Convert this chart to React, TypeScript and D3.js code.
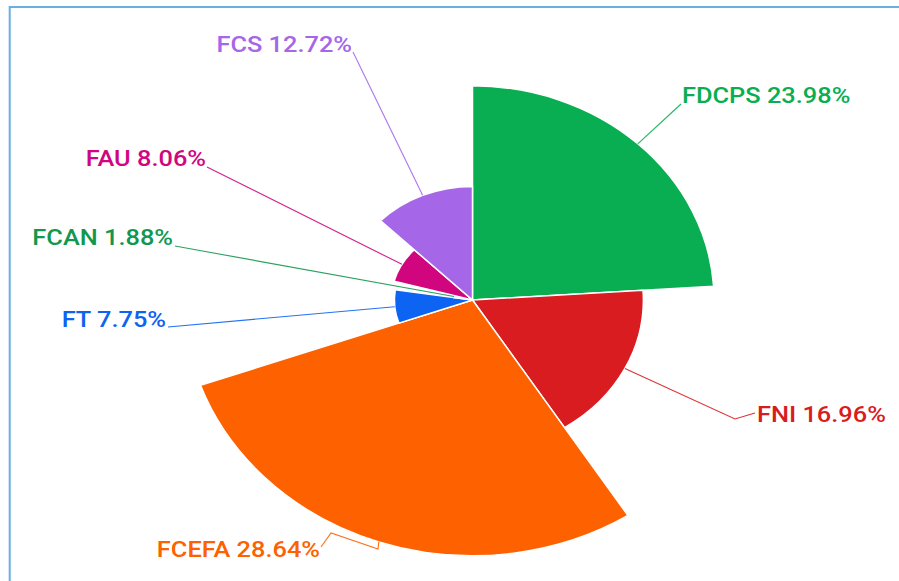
import React from 'react';
import * as d3 from 'd3';

const categories = ['FDCPS', 'FNI', 'FCEFA', 'FT', 'FCAN', 'FAU', 'FCS'];
const shares = [23.98, 16.96, 28.64, 7.75, 1.88, 8.06, 12.72];
const colors = ['#08ae51', '#d91c20', '#fe6100', '#0d63f2', '#12984e', '#d1067f', '#a566e8'];

// leader line bend/end points (screen px) after the arc start point
const labelBends: [number, number][][] = [
  [[681, 104]],
  [[735, 419], [755, 413]],
  [[378, 549], [331, 533], [321, 547]],
  [[168, 327]],
  [[175, 246]],
  [[207, 167]],
  [[353, 52]],
];
const labelX = [682, 757, 320, 166, 173, 206, 352];
const labelY = [103, 422, 557, 327, 245, 166, 52];
const labelAnchor = ['start', 'start', 'end', 'end', 'end', 'end', 'end'];

const W = 899;
const H = 581;
const cx = 472.5;
const cy = 300;
const sx = 1.128;
const maxR = 255.8;

export default function App() {
  const pie = d3.pie<number>().sort(null).value((d) => d).startAngle(0).endAngle(2 * Math.PI);
  const arcsData = pie(shares);
  const r = d3.scaleLinear().domain([0, d3.max(shares) as number]).range([0, maxR]);
  const arcGen = d3.arc<d3.PieArcDatum<number>>().innerRadius(0).outerRadius((d) => r(d.data));
  const line = d3.line();

  return (
    <svg width={W} height={H} style={{ position: 'absolute', left: 0, top: 0 }}>
      <rect x={0} y={0} width={W} height={H} fill="#fff" />
      <path d={`M9.7,${H} V7 H${W}`} fill="none" stroke="#6aafdf" strokeWidth={2} />
      <g transform={`translate(${cx},${cy}) scale(${sx},1)`}>
        {arcsData.map((a, i) => (
          <path
            key={categories[i]}
            d={arcGen(a) as string}
            fill={colors[i]}
            stroke="#fff"
            strokeWidth={1.5}
            vectorEffect="non-scaling-stroke"
          />
        ))}
      </g>
      {arcsData.map((a, i) => {
        const mid = (a.startAngle + a.endAngle) / 2;
        const rr = r(a.data);
        const start: [number, number] = [cx + sx * rr * Math.sin(mid), cy - rr * Math.cos(mid)];
        const pts: [number, number][] = [start, ...labelBends[i]];
        return (
          <path
            key={'l' + i}
            d={line(pts) as string}
            fill="none"
            stroke={colors[i]}
            strokeOpacity={0.9}
            strokeWidth={1.1}
          />
        );
      })}
      {arcsData.map((a, i) => (
        <text
          key={'t' + i}
          transform={`translate(${labelX[i]},${labelY[i]}) scale(${sx},1)`}
          textAnchor={labelAnchor[i] as any}
          fill={colors[i]}
          fontFamily="Roboto, 'Noto Sans', sans-serif"
          fontWeight={500}
          fontSize={22.5}
        >
          {`${categories[i]} ${shares[i].toFixed(2)}%`}
        </text>
      ))}
    </svg>
  );
}
